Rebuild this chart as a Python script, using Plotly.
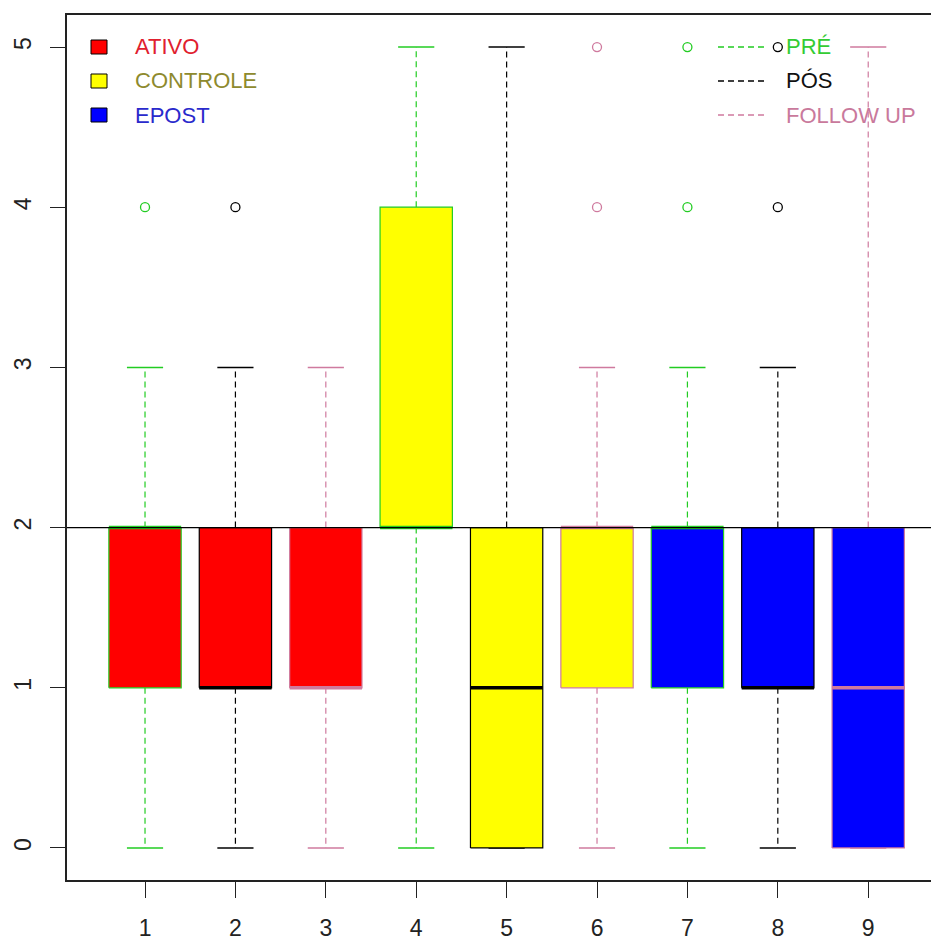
import plotly.graph_objects as go

# ---------------- data ----------------
groups = ["ATIVO", "CONTROLE", "EPOST"]
times = ["PRÉ", "PÓS", "FOLLOW UP"]
positions = [1, 2, 3, 4, 5, 6, 7, 8, 9]
box_group = [0, 0, 0, 1, 1, 1, 2, 2, 2]
box_time = [0, 1, 2, 0, 1, 2, 0, 1, 2]
q1 = [1, 1, 1, 2, 0, 1, 1, 1, 0]
median = [2, 1, 1, 2, 1, 2, 2, 1, 1]
q3 = [2, 2, 2, 4, 2, 2, 2, 2, 2]
lower = [0, 0, 0, 0, 0, 0, 0, 0, 0]
upper = [3, 3, 3, 5, 5, 3, 3, 3, 5]
outliers = [[4], [4], [], [], [], [4, 5], [4, 5], [4, 5], []]
ref_line = 2
x_ticks = [1, 2, 3, 4, 5, 6, 7, 8, 9]
y_ticks = [0, 1, 2, 3, 4, 5]

# ---------------- styles ----------------
fill_colors = ["#FF0000", "#FFFF00", "#0000FF"]
group_text_colors = ["#E0202E", "#8E8A2E", "#2A2ACC"]
line_colors = ["#22CC22", "#000000", "#CF7A9E"]
time_text_colors = ["#33CC33", "#111111", "#C9799C"]
BOXW = 0.8
CAPW = 0.4

# the page body has an 8px margin, so the figure is drawn 8px smaller
OFF = 8
WIN_W, WIN_H = 939, 945
W, H = WIN_W - OFF, WIN_H - OFF
PLOT_L, PLOT_T, PLOT_B = 67, 15, 880   # in window pixels
L = PLOT_L - OFF
T = PLOT_T - OFF
B = WIN_H - PLOT_B
plot_w = WIN_W - PLOT_L
plot_h = PLOT_B - PLOT_T

fig = go.Figure()

for i, x in enumerate(positions):
    lc = line_colors[box_time[i]]
    fc = fill_colors[box_group[i]]
    # whiskers (dashed)
    if upper[i] > q3[i]:
        fig.add_trace(go.Scatter(x=[x, x], y=[q3[i], upper[i]], mode="lines",
                                 line=dict(color=lc, width=1.2, dash="6px,4px"),
                                 hoverinfo="skip", showlegend=False))
    if lower[i] < q1[i]:
        fig.add_trace(go.Scatter(x=[x, x], y=[q1[i], lower[i]], mode="lines",
                                 line=dict(color=lc, width=1.2, dash="6px,4px"),
                                 hoverinfo="skip", showlegend=False))
    # staples
    for v in (upper[i], lower[i]):
        fig.add_trace(go.Scatter(x=[x - CAPW / 2, x + CAPW / 2], y=[v, v], mode="lines",
                                 line=dict(color=lc, width=1.5),
                                 hoverinfo="skip", showlegend=False))
    # box
    fig.add_trace(go.Scatter(
        x=[x - BOXW / 2, x + BOXW / 2, x + BOXW / 2, x - BOXW / 2, x - BOXW / 2],
        y=[q1[i], q1[i], q3[i], q3[i], q1[i]],
        mode="lines", fill="toself", fillcolor=fc,
        line=dict(color=lc, width=1.2), hoverinfo="skip", showlegend=False))
    # median
    fig.add_trace(go.Scatter(x=[x - BOXW / 2, x + BOXW / 2], y=[median[i], median[i]],
                             mode="lines", line=dict(color=lc, width=3.5),
                             hoverinfo="skip", showlegend=False))
    # outliers
    if outliers[i]:
        fig.add_trace(go.Scatter(x=[x] * len(outliers[i]), y=outliers[i], mode="markers",
                                 marker=dict(symbol="circle-open", size=9,
                                             color=lc, line=dict(width=1.3)),
                                 hoverinfo="skip", showlegend=False))

# reference line
fig.add_shape(type="line", xref="paper", x0=0, x1=1, yref="y", y0=ref_line, y1=ref_line,
              line=dict(color="black", width=1.3), layer="above")


def px(xp):
    return (xp - PLOT_L) / plot_w


def py(yp):
    return (PLOT_B - yp) / plot_h


FONT = "Liberation Sans, Arial, sans-serif"
row_y = [47, 81, 115]

# left legend (fill colours)
for k, g in enumerate(groups):
    yc = row_y[k]
    fig.add_shape(type="rect", xref="paper", yref="paper",
                  x0=px(91), x1=px(107), y0=py(yc + 7), y1=py(yc - 7),
                  fillcolor=fill_colors[k], line=dict(color="black", width=1))
    fig.add_annotation(xref="paper", yref="paper", x=px(133), y=py(yc), text=g,
                       showarrow=False, xanchor="left", yanchor="middle",
                       font=dict(family=FONT, size=22, color=group_text_colors[k]))

# right legend (line colours)
for k, t in enumerate(times):
    yc = row_y[k]
    fig.add_shape(type="line", xref="paper", yref="paper",
                  x0=px(718), x1=px(764), y0=py(yc), y1=py(yc),
                  line=dict(color=line_colors[k], width=1.3, dash="6px,4px"))
    fig.add_annotation(xref="paper", yref="paper", x=px(784), y=py(yc), text=t,
                       showarrow=False, xanchor="left", yanchor="middle",
                       font=dict(family=FONT, size=22, color=time_text_colors[k]))

fig.update_layout(
    width=W, height=H,
    margin=dict(l=L, r=0, t=T, b=B, pad=0),
    paper_bgcolor="white", plot_bgcolor="white",
    showlegend=False,
    font=dict(family=FONT, size=23, color="#222222"),
    xaxis=dict(range=[0.137, 9.783], tickmode="array", tickvals=x_ticks,
               ticktext=[str(v) for v in x_ticks],
               showgrid=False, zeroline=False, showline=True, mirror=True,
               linecolor="#222222", linewidth=1.5,
               ticks="outside", ticklen=16, tickwidth=1.3, tickcolor="#222222",
               tickfont=dict(size=23), ticklabelstandoff=11),
    yaxis=dict(range=[-0.2, 5.2], tickmode="array", tickvals=y_ticks,
               ticktext=[str(v) for v in y_ticks],
               showgrid=False, zeroline=False, showline=True,
               linecolor="#222222", linewidth=1.5,
               ticks="outside", ticklen=15, tickwidth=1.3, tickcolor="#222222",
               tickfont=dict(size=23), tickangle=-90, ticklabelstandoff=10),
)

fig.write_html("out.html")
